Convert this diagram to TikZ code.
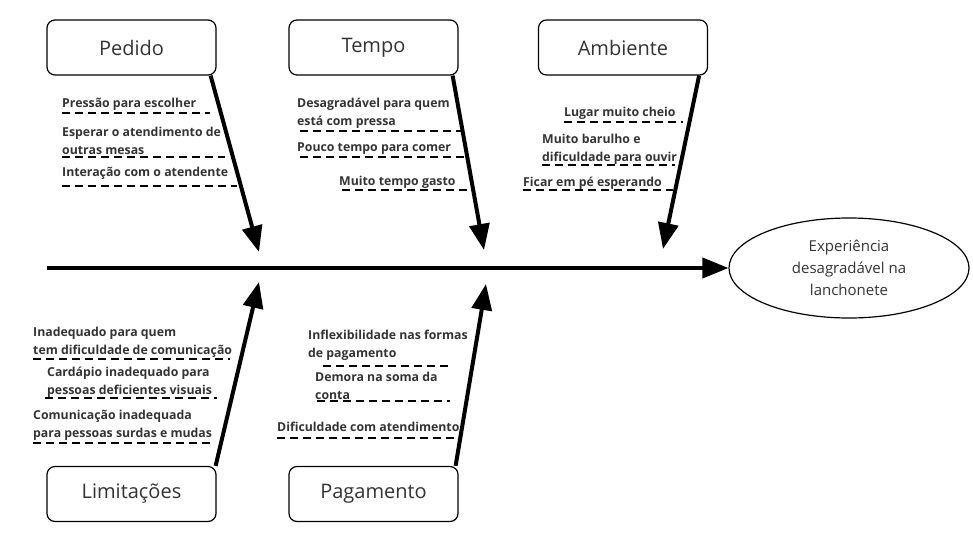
\documentclass[tikz,border=0pt]{standalone}
\usepackage{fontspec}
\setmainfont{Open Sans}
\usetikzlibrary{arrows.meta,shapes.geometric}
\definecolor{txt}{HTML}{333333}
\begin{document}
\begin{tikzpicture}[x=1pt,y=-1pt,
  catbox/.style={draw, rounded corners=8pt, line width=1.2pt, minimum width=169pt, minimum height=55pt, inner sep=0pt, font=\fontsize{20}{24}\selectfont, text=txt},
  effect/.style={draw, ellipse, line width=1.2pt, minimum width=240pt, minimum height=100pt, inner sep=0pt, align=center, font=\fontsize{15}{22}\selectfont, text=txt},
  lbl/.style={anchor=west, align=left, inner sep=0pt, font=\bfseries\fontsize{12.3}{18}\selectfont, text=txt},
  uline/.style={dash pattern=on 8pt off 5pt, line width=1.3pt},
  bone/.style={line width=4pt, -{Triangle[length=26pt,width=20pt]}},
]
\useasboundingbox (0,0) rectangle (973,546);
% category boxes
\node[catbox] (pedido) at (131.5,47.5) {Pedido};
\node[catbox] (tempo) at (373.5,47.5) {Tempo};
\node[catbox] (ambiente) at (623,47.5) {Ambiente};
\node[catbox] (limit) at (131.5,494) {Limitações};
\node[catbox] (pag) at (373.5,494) {Pagamento};
% effect
\node[effect] (exp) at (849,268) {Experiência\\desagradável na\\lanchonete};
% spine
\coordinate (s0) at (47,268);
\draw[bone] (s0) -- (exp.west);
% bone tips
\coordinate (t1) at (259,252);
\coordinate (t2) at (484,250);
\coordinate (t3) at (663,249);
\coordinate (t4) at (259,282);
\coordinate (t5) at (486,284);
\draw[bone] ([xshift=-6pt]pedido.south east) -- (t1);
\draw[bone] ([xshift=-6pt]tempo.south east) -- (t2);
\draw[bone] ([xshift=-9pt]ambiente.south east) -- (t3);
\draw[bone] ([xshift=-1pt]limit.north east) -- (t4);
\draw[bone] ([xshift=-3pt]pag.north east) -- (t5);
% Pedido causes
\node[lbl] (l11) at (62,104) {Pressão para escolher};
\draw[uline] (62,113) -- (210,113);
\node[lbl] (l12) at (62,140.5) {Esperar o atendimento de\\outras mesas};
\draw[uline] (62,157) -- (225,157);
\node[lbl] (l13) at (62,173) {Interação com o atendente};
\draw[uline] (62,186) -- (237,186);
% Tempo causes
\node[lbl] (l21) at (297,113) {Desagradável para quem\\está com pressa};
\draw[uline] (300,131) -- (463,131);
\node[lbl] (l22) at (297,149) {Pouco tempo para comer};
\draw[uline] (300,157) -- (465,157);
\node[lbl] (l23) at (339,182) {Muito tempo gasto};
\draw[uline] (342,190) -- (470,190);
% Ambiente causes
\node[lbl] (l31) at (564,113) {Lugar muito cheio};
\draw[uline] (564,122) -- (683,122);
\node[lbl] (l32) at (542,149) {Muito barulho e\\dificuldade para ouvir};
\draw[uline] (542,165) -- (675,165);
\node[lbl] (l33) at (523,183) {Ficar em pé esperando};
\draw[uline] (523,190) -- (673,190);
% Limitacoes causes
\node[lbl] (l41) at (33,342) {Inadequado para quem\\tem dificuldade de comunicação};
\draw[uline] (33,359) -- (230,359);
\node[lbl] (l42) at (47,382.5) {Cardápio inadequado para\\pessoas deficientes visuais};
\draw[uline] (45,398) -- (217,398);
\node[lbl] (l43) at (33,425.5) {Comunicação inadequada\\para pessoas surdas e mudas};
\draw[uline] (33,443) -- (210,443);
% Pagamento causes
\node[lbl] (l51) at (308,345) {Inflexibilidade nas formas\\de pagamento};
\draw[uline] (323,366) -- (452,366);
\node[lbl] (l52) at (315,385.5) {Demora na soma da\\conta};
\draw[uline] (317,401) -- (450,401);
\node[lbl] (l53) at (277,427) {Dificuldade com atendimento};
\draw[uline] (277,438) -- (455,438);
\end{tikzpicture}
\end{document}
